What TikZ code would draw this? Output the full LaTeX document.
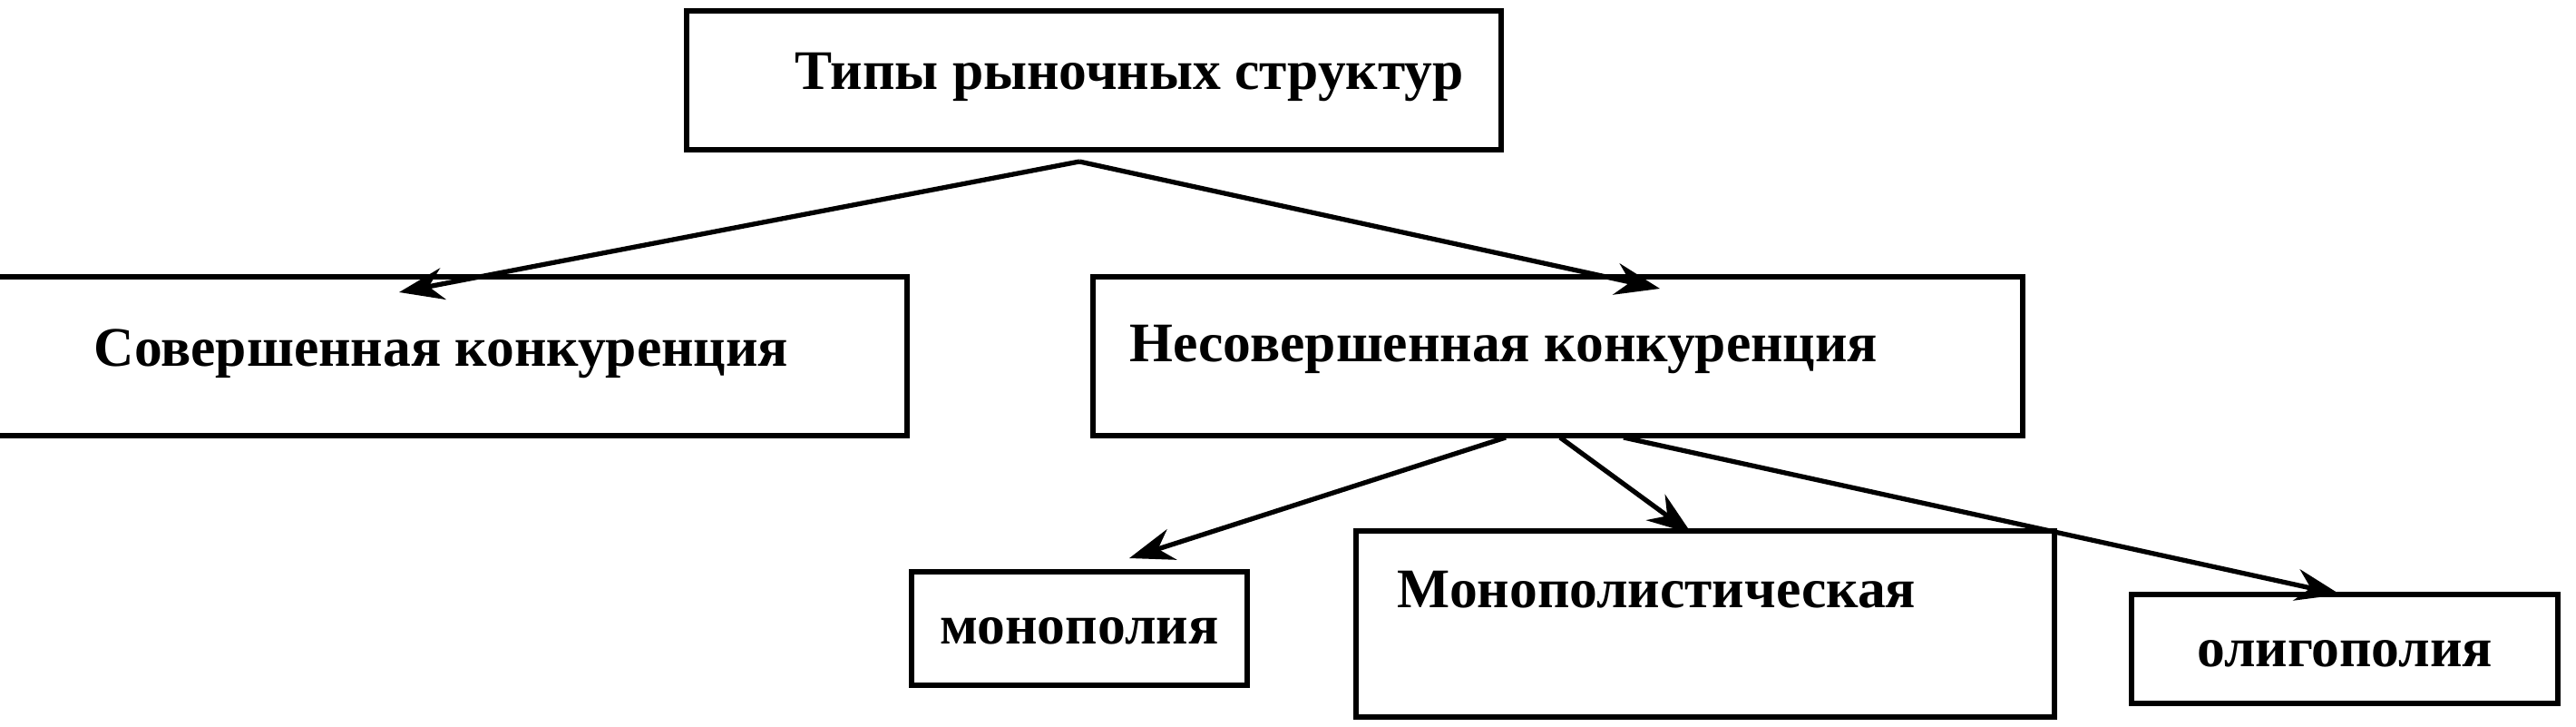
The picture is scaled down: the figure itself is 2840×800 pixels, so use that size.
\documentclass[tikz,border=0pt]{standalone}
\usepackage{fontspec}
\setmainfont{Liberation Serif}
\usetikzlibrary{arrows.meta}
\begin{document}
\begin{tikzpicture}[x=0.01cm,y=-0.01cm,
  box/.style={draw,line width=1.6pt,inner sep=0pt},
  lbl/.style={font=\fontsize{17.5}{21}\selectfont\bfseries,inner sep=0pt},
  arr/.style={line width=1.5pt,-{Stealth[length=14pt,width=10pt]}}]
\useasboundingbox (0,0) rectangle (2840,800);
\draw[box] (757,12) rectangle (1655,165);
\node[lbl] (top) at (1245,85) {Типы рыночных структур};
\draw[box] (-5,305) rectangle (1000,480);
\node[lbl,anchor=west] (perf) at (103,390) {Совершенная конкуренция};
\draw[box] (1205,305) rectangle (2230,480);
\node[lbl,anchor=west] (imp) at (1245,385) {Несовершенная конкуренция};
\draw[box] (1005,630) rectangle (1375,755);
\node[lbl] (mono) at (1190,695) {монополия};
\draw[box] (1495,585) rectangle (2265,790);
\node[lbl,anchor=west] (mc) at (1540,650) {Монополистическая};
\draw[box] (2350,655) rectangle (2820,775);
\node[lbl] (olig) at (2585,720) {олигополия};
\coordinate (t0) at (1190,178);
\coordinate (e1) at (440,322);
\coordinate (e2) at (1830,318);
\coordinate (s1) at (1660,482);
\coordinate (s2) at (1720,482);
\coordinate (s3) at (1790,482);
\coordinate (f1) at (1245,615);
\coordinate (f2) at (1865,588);
\coordinate (f3) at (2580,655);
\draw[arr] (t0) -- (e1);
\draw[arr] (t0) -- (e2);
\draw[arr] (s1) -- (f1);
\draw[arr] (s2) -- (f2);
\draw[arr] (s3) -- (f3);
\end{tikzpicture}
\end{document}
